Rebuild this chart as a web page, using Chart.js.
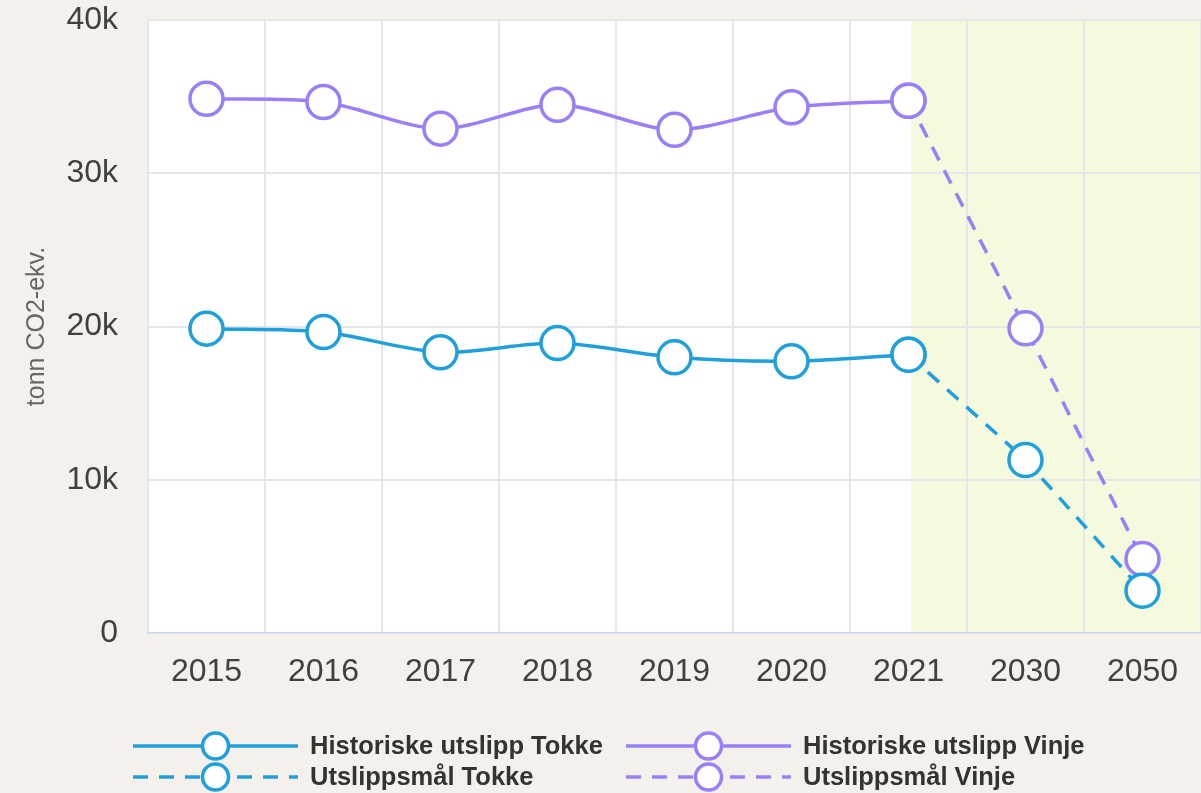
<!DOCTYPE html>
<html>
<head>
<meta charset="utf-8">
<script src="https://cdn.jsdelivr.net/npm/chart.js@4.4.1/dist/chart.umd.min.js"></script>
<style>
  html, body { margin: 0; padding: 0; background: #f4f1ec; }
  #wrap { width: 1201px; height: 793px; position: relative; }
  canvas { display: block; }
</style>
</head>
<body>
<div id="wrap"><canvas id="chart" width="1201" height="793"></canvas></div>
<script>
// Categories (years) and emission series, tonn CO2-ekv.
const years = ['2015', '2016', '2017', '2018', '2019', '2020', '2021', '2030', '2050'];
const historiskTokke = [19860, 19640, 18320, 18920, 17990, 17730, 18160, null, null];
const historiskVinje = [34860, 34650, 32910, 34470, 32840, 34300, 34730, null, null];
const maalTokke = [null, null, null, null, null, null, 18160, 11290, 2760];
const maalVinje = [null, null, null, null, null, null, 34730, 19880, 4830];
const yTickValues = [0, 10000, 20000, 30000, 40000];
const targetStartYear = '2021';

const FONT = '"Liberation Sans", Arial, Helvetica, sans-serif';
const BLUE = '#1fa0dc';
const PURPLE = '#9b7ff8';

// White plot area plus the shaded target period, painted under the grid
const plotBackground = {
  id: 'plotBackground',
  beforeDraw(chart) {
    const { ctx, chartArea: a, scales: { x } } = chart;
    ctx.save();
    ctx.fillStyle = '#ffffff';
    ctx.fillRect(a.left, a.top, a.right - a.left, a.bottom - a.top);
    const bx = x.getPixelForValue(years.indexOf(targetStartYear)) + 2.5;
    ctx.fillStyle = '#f5fadf';
    ctx.fillRect(bx, a.top, a.right - bx, a.bottom - a.top);
    ctx.restore();
  }
};

// Two-column legend with line + marker samples
const lineLegend = {
  id: 'lineLegend',
  afterDraw(chart, args, opts) {
    const ctx = chart.ctx;
    chart.data.datasets.forEach((ds, i) => {
      const x0 = opts.columns[i % 2];
      const y = opts.rows[Math.floor(i / 2)];
      const x1 = x0 + opts.lineWidth;
      ctx.save();
      ctx.strokeStyle = ds.borderColor;
      ctx.lineWidth = ds.borderWidth;
      ctx.setLineDash(ds.borderDash || []);
      ctx.beginPath();
      ctx.moveTo(x0, y);
      ctx.lineTo(x1, y);
      ctx.stroke();
      ctx.setLineDash([]);
      ctx.beginPath();
      ctx.arc((x0 + x1) / 2, y, opts.radius, 0, Math.PI * 2);
      ctx.fillStyle = '#ffffff';
      ctx.fill();
      ctx.lineWidth = ds.pointBorderWidth;
      ctx.stroke();
      ctx.fillStyle = '#333333';
      ctx.font = 'bold 25.5px ' + FONT;
      ctx.textAlign = 'left';
      ctx.textBaseline = 'middle';
      ctx.fillText(ds.label, x1 + 12, y + 1);
      ctx.restore();
    });
  }
};

function series(label, data, color, dashed) {
  return {
    label,
    data,
    borderColor: color,
    backgroundColor: color,
    borderWidth: 3.5,
    borderDash: dashed ? [15, 11] : [],
    tension: dashed ? 0 : 0.3,
    pointRadius: 16.5,
    pointHoverRadius: 16.5,
    pointBorderWidth: 3.5,
    pointBackgroundColor: '#ffffff',
    pointBorderColor: color,
    spanGaps: false,
    clip: false
  };
}

new Chart(document.getElementById('chart'), {
  type: 'line',
  data: {
    labels: years,
    datasets: [
      series('Historiske utslipp Tokke', historiskTokke, BLUE, false),
      series('Historiske utslipp Vinje', historiskVinje, PURPLE, false),
      series('Utslippsmål Tokke', maalTokke, BLUE, true),
      series('Utslippsmål Vinje', maalVinje, PURPLE, true)
    ]
  },
  options: {
    responsive: false,
    animation: false,
    events: [],
    layout: { autoPadding: false, padding: { top: 20, right: 0, bottom: 100, left: 0 } },
    plugins: {
      legend: { display: false },
      tooltip: { enabled: false },
      lineLegend: { columns: [133, 626], rows: [746, 777], lineWidth: 165, radius: 13 }
    },
    scales: {
      x: {
        offset: true,
        grid: { offset: true, color: '#e6e6e6', lineWidth: 2, drawTicks: false },
        border: { color: '#ccd6eb', width: 1.5 },
        ticks: { font: { size: 32, family: FONT }, color: '#404040', padding: 20, maxRotation: 0 },
        afterFit(s) { s.height = 60; s.paddingLeft = 0; s.paddingRight = 0; }
      },
      y: {
        min: yTickValues[0],
        max: yTickValues[yTickValues.length - 1],
        afterBuildTicks(s) { s.ticks = yTickValues.map(v => ({ value: v })); },
        grid: {
          color: c => (c.tick && c.tick.value === 0 ? 'rgba(0,0,0,0)' : '#e6e6e6'),
          lineWidth: 2,
          drawTicks: false
        },
        border: { display: false },
        ticks: {
          font: { size: 32, family: FONT },
          color: '#404040',
          padding: 30,
          callback: v => (v === 0 ? '0' : (v / 1000) + 'k')
        },
        title: {
          display: true,
          text: 'tonn CO2-ekv.',
          font: { size: 25, family: FONT },
          color: '#666666',
          padding: { top: 22, bottom: 0 }
        },
        afterFit(s) { s.width = 148; s.paddingTop = 0; s.paddingBottom = 0; }
      }
    }
  },
  plugins: [plotBackground, lineLegend]
});
</script>
</body>
</html>
